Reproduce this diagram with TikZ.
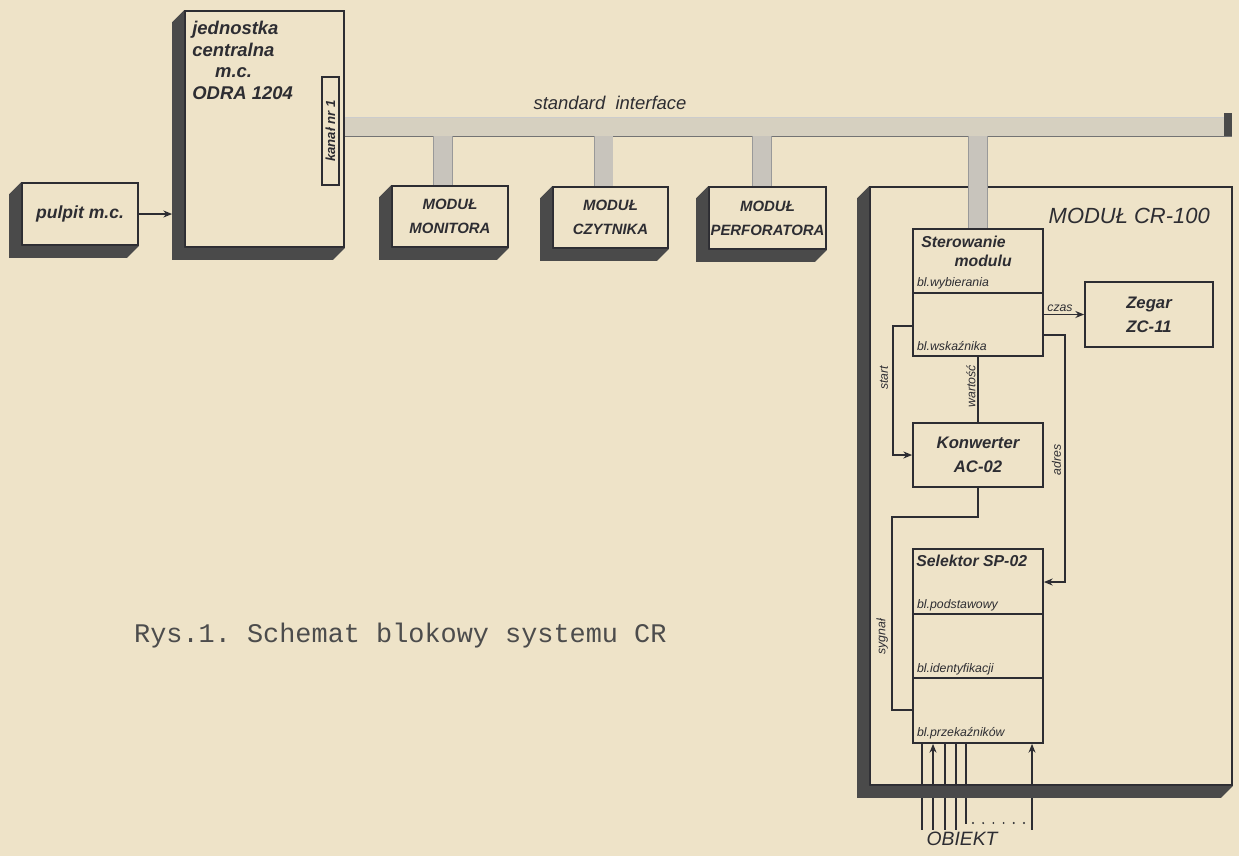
\documentclass[tikz,border=0pt]{standalone}
\usepackage{fontspec}
\setmonofont{Liberation Mono}
\newfontfamily\lbl{Liberation Sans}
\usepackage{tikz}
\usetikzlibrary{arrows.meta,positioning}

\definecolor{paper}{RGB}{238,227,200}
\definecolor{ink}{RGB}{45,45,50}
\definecolor{shadowc}{RGB}{74,74,74}
\definecolor{busc}{RGB}{214,208,192}
\definecolor{stubc}{RGB}{200,196,188}

% extruded edge (left and bottom) of a box
\newcommand{\boxshadow}[2][12]{%
  \fill[shadowc] (#2.north west) -- ([shift={(-#1,#1)}]#2.north west)
    -- ([shift={(-#1,#1)}]#2.south west) -- ([shift={(-#1,#1)}]#2.south east)
    -- (#2.south east) -- (#2.south west) -- cycle;}

\begin{document}
\begin{tikzpicture}[
  x=0.02cm, y=-0.02cm,
  >={Stealth[length=5pt,width=4pt]},
  blk/.style={draw=ink, line width=1pt, inner sep=0pt, align=center},
  wh/.style 2 args={minimum width=#1*0.02cm, minimum height=#2*0.02cm},
  wire/.style={draw=ink, line width=0.8pt},
  modtxt/.style={font=\lbl\itshape\bfseries\fontsize{8.5}{13.5}\selectfont, text=ink},
  boxtxt/.style={font=\lbl\itshape\bfseries\fontsize{9.5}{13.5}\selectfont, text=ink},
  sub/.style={font=\lbl\itshape\fontsize{7}{8}\selectfont, text=ink, inner sep=1pt},
  sig/.style={font=\lbl\itshape\fontsize{7}{8}\selectfont, text=ink, rotate=90, inner sep=1pt},
  stub/.style={draw=black!40, line width=0.5pt, double=stubc, double distance=0.36cm}
]
\useasboundingbox[fill=paper] (0,0) rectangle (1239,856);

%% left side: console and central unit
\node[blk, wh={116}{62}, modtxt, font=\lbl\itshape\bfseries\fontsize{10}{12}\selectfont] (pulpit) at (80,214) {pulpit m.c.};
\node[blk, wh={159}{236}] (jc) at (264.5,129) {};
\node[anchor=north west, align=left, inner sep=0pt,
      font=\lbl\itshape\bfseries\fontsize{10.5}{12.3}\selectfont, text=ink] (jcTxt) at (192,21)
  {jednostka\\ centralna\\ \hspace*{13pt}m.c.\\ ODRA 1204};
\node[blk, wh={17}{108}, line width=0.8pt] (kan) at (330.5,131) {};
\node[sub, rotate=90, font=\lbl\itshape\bfseries\fontsize{7.5}{8}\selectfont] (kanTxt) at (kan.center) {kanał nr 1};

\path ([xshift=-0.24cm]pulpit.east -| jc.west) coordinate (jcIn);
\draw[wire, ->] (pulpit.east) -- (jcIn);

%% bus
\node[anchor=west, fill=busc, wh={886}{18}, inner sep=0pt] (bus) at (jc.east |- 0,127) {};
\draw[black!20, line width=0.4pt] (bus.north west) -- (bus.north east);
\draw[black!55, line width=0.9pt] (bus.south west) -- (bus.south east);
\fill[shadowc] ([xshift=-0.16cm]bus.south east) rectangle ([yshift=0.1cm]bus.north east);
\node[font=\lbl\itshape\fontsize{10.5}{12}\selectfont, text=ink] (busTxt) at (610,103) {standard\ \ interface};

%% peripheral modules
\node[blk, wh={116}{61}, modtxt] (mon)  at (450,216.5) {MODUŁ\\MONITORA};
\node[blk, wh={115}{61}, modtxt] (czy)  at (610.5,217.5) {MODUŁ\\CZYTNIKA};
\node[blk, wh={117}{62}, modtxt] (perf) at (767.5,218) {MODUŁ\\PERFORATORA};

\path ([xshift=-0.14cm]mon.north) coordinate (monTop)
      ([xshift=-0.14cm]czy.north) coordinate (czyTop)
      ([xshift=-0.11cm]perf.north) coordinate (perfTop);
\draw[stub] (monTop) -- (monTop |- bus.south);
\draw[stub] (czyTop) -- (czyTop |- bus.south);
\draw[stub] (perfTop) -- (perfTop |- bus.south);

%% MODUL CR-100
\node[blk, wh={362}{598}] (cr) at (1051,486) {};
\node[anchor=north east, font=\lbl\itshape\fontsize{12.5}{15}\selectfont, text=ink] (crTxt) at (1216,202) {MODUŁ CR-100};

\node[blk, wh={130}{127}] (ster) at (978,292.5) {};
\draw[stub] (ster.north) -- (ster.north |- bus.south);
\draw[wire, line width=1pt] (ster.west |- 0,293) -- (ster.east |- 0,293);
\node[anchor=north west, align=left, inner sep=0pt, boxtxt, font=\lbl\itshape\bfseries\fontsize{9}{10.8}\selectfont] (sterTxt) at (921,236)
  {Sterowanie\\ \hspace*{2.1em}modulu};
\node[sub, anchor=south west] (wyb) at (915,291) {bl.wybierania};
\node[sub, anchor=south west] (wsk) at (915,353) {bl.wskaźnika};

\node[blk, wh={128}{65}, boxtxt] (zeg) at (1149,314.5) {Zegar\\ZC-11};
\node[blk, wh={130}{64}, boxtxt] (konw) at (978,455) {Konwerter\\AC-02};

\node[blk, wh={130}{194}] (sel) at (978,646) {};
\draw[wire, line width=1pt] (sel.west |- 0,614) -- (sel.east |- 0,614);
\draw[wire, line width=1pt] (sel.west |- 0,678) -- (sel.east |- 0,678);
\node[anchor=north west, inner sep=0pt, boxtxt, font=\lbl\itshape\bfseries\fontsize{9}{10}\selectfont] (selTxt) at (916,555) {Selektor SP-02};
\node[sub, anchor=south west] (pod) at (915,613) {bl.podstawowy};
\node[sub, anchor=south west] (ide) at (915,677) {bl.identyfikacji};
\node[sub, anchor=south west] (prz) at (915,741) {bl.przekaźników};

%% signals inside CR-100
\draw[wire, ->] (ster.east |- zeg.west) -- node[sub, above, pos=0.4] (czas) {czas} (zeg.west);

\coordinate (adrC) at (1065,335);
\coordinate (adrS) at (1065,582);
\draw[wire, ->] (ster.east |- adrC) -- (adrC) -- (adrS) -- (sel.east |- adrS);
\node[sig, anchor=south] (adres) at (1063,460) {adres};

\coordinate (stC) at (893,326);
\draw[wire, ->] (ster.west |- stC) -- (stC) |- (konw.west);
\node[sig, anchor=south] (start) at (890,378) {start};

\draw[wire] (ster.south) -- node[sig, anchor=south, pos=0.45] (wart) {wartość} (konw.north);

\coordinate (sgA) at (892,517);
\coordinate (sgB) at (892,710);
\draw[wire] (konw.south) |- (sgA) -- (sgB) -- (sel.west |- sgB);
\node[sig, anchor=south] (sygn) at (890,637) {sygnał};

%% object lines
\node[font=\lbl\itshape\fontsize{11}{12}\selectfont, text=ink, inner sep=1pt] (obj) at (962,839) {OBIEKT};
\foreach \x in {922,945,956}
  \draw[wire, line width=0.7pt] (sel.south -| \x,0) -- (\x,0 |- obj.north);
\foreach \x in {933,1032}
  \draw[wire, line width=0.7pt, <-] (sel.south -| \x,0) -- (\x,0 |- obj.north);
\draw[wire, line width=0.7pt] (sel.south -| 966,0) -- (966,824);
\draw[ink, line width=1.2pt, line cap=round, dash pattern=on 0pt off 5.8pt] (973,823) -- (1025,823);

%% extruded edges
\boxshadow{pulpit}
\boxshadow{jc}
\boxshadow{mon}
\boxshadow{czy}
\boxshadow{perf}
\boxshadow{cr}

%% caption
\node[anchor=west, font=\ttfamily\fontsize{15.3}{17}\selectfont, text=black!70] (cap) at (128,636)
  {Rys.1. Schemat blokowy systemu CR};
\end{tikzpicture}
\end{document}
